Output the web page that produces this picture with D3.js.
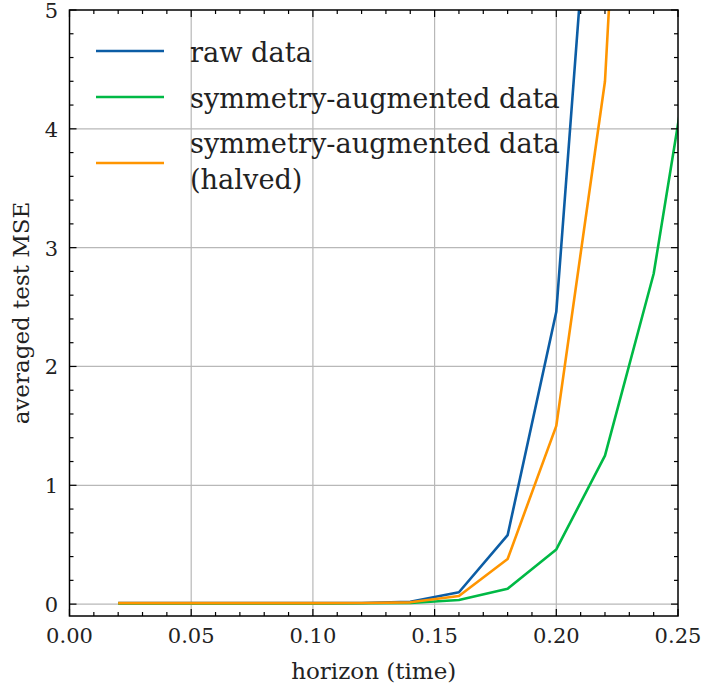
<!DOCTYPE html>
<html><head><meta charset="utf-8">
<script src="https://cdn.jsdelivr.net/npm/d3@7"></script>
<style>body{margin:0;background:#fff}svg{display:block}text{font-family:"DejaVu Serif","Liberation Serif",serif;fill:#222}</style>
</head><body><svg id="c" width="701" height="690"></svg>
<script>
const horizon = [0.02,0.04,0.06,0.08,0.10,0.12,0.14,0.16,0.18,0.20,0.22,0.24,0.26];
const rawData = [0.008,0.008,0.008,0.008,0.008,0.009,0.02,0.10,0.58,2.46,7.9,null,null];
const symData = [0.006,0.006,0.006,0.006,0.006,0.007,0.01,0.035,0.13,0.46,1.25,2.78,5.3];
const halvedData = [0.008,0.008,0.008,0.008,0.008,0.009,0.015,0.068,0.38,1.50,4.40,11.9,null];
const seriesNames = ["raw data","symmetry-augmented data","symmetry-augmented data\n(halved)"];
const seriesColors = ["#0C5DA5","#00B945","#FF9500"];
const xTicks = [0,0.05,0.10,0.15,0.20,0.25];
const yTicks = [0,1,2,3,4,5];

const W=701,H=690, L=69.5, R=678, T=10, B=616;
const svg=d3.select("#c");
const x=d3.scaleLinear().domain([0,0.25]).range([L,R]);
const y=d3.scaleLinear().domain([-0.1,5]).range([B,T]);

svg.append("defs").append("clipPath").attr("id","clip").append("rect")
  .attr("x",L).attr("y",T).attr("width",R-L).attr("height",B-T);

// grid
const g=svg.append("g");
g.selectAll(".gx").data(xTicks.slice(1,-1)).join("line")
 .attr("x1",d=>x(d)).attr("x2",d=>x(d)).attr("y1",T).attr("y2",B)
 .attr("stroke","#b8b8b8").attr("stroke-width",1.2);
g.selectAll(".gy").data(yTicks.slice(0,-1)).join("line")
 .attr("y1",d=>y(d)).attr("y2",d=>y(d)).attr("x1",L).attr("x2",R)
 .attr("stroke","#b8b8b8").attr("stroke-width",1.2);

// lines
const series=[rawData,symData,halvedData];
const line=d3.line().defined(d=>d[1]!=null).x(d=>x(d[0])).y(d=>y(d[1]));
const lg=svg.append("g").attr("clip-path","url(#clip)");
[0,1,2].forEach(i=>{
  lg.append("path").datum(horizon.map((h,j)=>[h,series[i][j]]))
   .attr("d",line).attr("fill","none").attr("stroke",seriesColors[i])
   .attr("stroke-width",2.6).attr("stroke-linejoin","round");
});

// axes with inward ticks
const xMinor=d3.range(0,0.2501,0.01).map(v=>+v.toFixed(2));
const yMinor=d3.range(0,5.01,0.2).map(v=>+v.toFixed(1));
const tk=svg.append("g").attr("stroke","#000").attr("stroke-width",1.2);
xMinor.forEach(v=>{
  const major=xTicks.some(t=>Math.abs(t-v)<1e-9);
  const len=major?7:4;
  tk.append("line").attr("x1",x(v)).attr("x2",x(v)).attr("y1",B).attr("y2",B-len);
  tk.append("line").attr("x1",x(v)).attr("x2",x(v)).attr("y1",T).attr("y2",T+len);
});
yMinor.forEach(v=>{
  const major=yTicks.some(t=>Math.abs(t-v)<1e-9);
  const len=major?7:4;
  tk.append("line").attr("y1",y(v)).attr("y2",y(v)).attr("x1",L).attr("x2",L+len);
  tk.append("line").attr("y1",y(v)).attr("y2",y(v)).attr("x1",R).attr("x2",R-len);
});
svg.append("rect").attr("x",L).attr("y",T).attr("width",R-L).attr("height",B-T)
 .attr("fill","none").attr("stroke","#000").attr("stroke-width",1.5);

// tick labels
svg.append("g").selectAll("text").data(xTicks).join("text")
 .attr("x",d=>x(d)).attr("y",643).attr("text-anchor","middle")
 .attr("font-size",21).text(d=>d.toFixed(2));
svg.append("g").selectAll("text").data(yTicks).join("text")
 .attr("x",58).attr("y",d=>y(d)+8).attr("text-anchor","end")
 .attr("font-size",21).text(d=>d);

// axis titles
svg.append("text").attr("x",(L+R)/2).attr("y",679).attr("text-anchor","middle")
 .attr("font-size",23).text("horizon (time)");
svg.append("text").attr("transform",`translate(29,${(T+B)/2}) rotate(-90)`)
 .attr("text-anchor","middle").attr("font-size",23).text("averaged test MSE");

// legend
const legRows=[{y:51,lines:[{t:seriesNames[0],b:62}]},
  {y:97,lines:[{t:"symmetry-augmented data",b:108}]},
  {y:163,lines:[{t:"symmetry-augmented data",b:153},{t:"(halved)",b:189}]}];
legRows.forEach((r,i)=>{
  svg.append("line").attr("x1",96).attr("x2",164).attr("y1",r.y).attr("y2",r.y)
   .attr("stroke",seriesColors[i]).attr("stroke-width",2.6);
  r.lines.forEach(l=>{
    svg.append("text").attr("x",190).attr("y",l.b).attr("font-size",27.2).text(l.t);
  });
});
</script></body></html>
